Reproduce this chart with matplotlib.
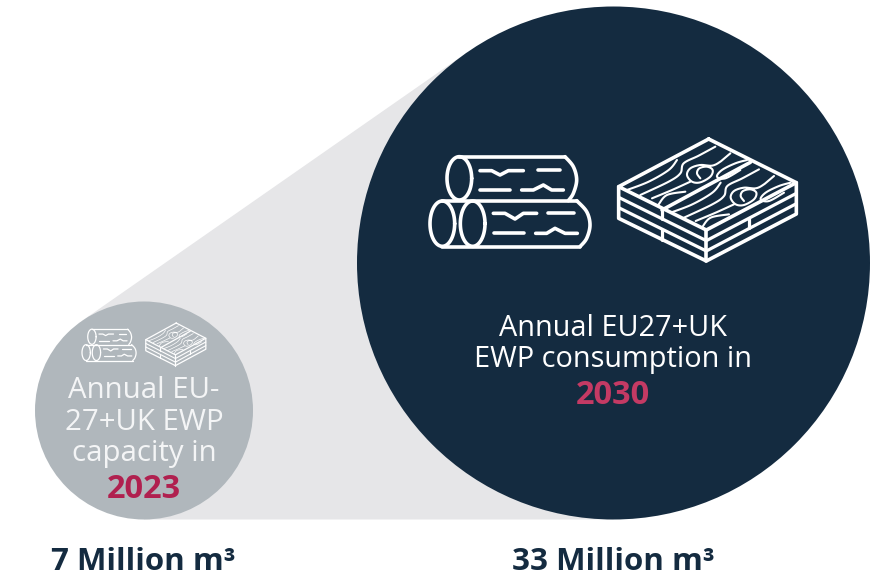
import numpy as np
import matplotlib
matplotlib.use("Agg")
import matplotlib.pyplot as plt
from matplotlib.patches import Circle, Polygon

volumes = ["7 Million m³", "33 Million m³"]
small_lines = ["Annual EU-", "27+UK EWP", "capacity in"]
small_year = "2023"
big_lines = ["Annual EU27+UK", "EWP consumption in"]
big_year = "2030"

NAVY, GREY, CONE = "#142B40", "#B0B7BC", "#E6E6E8"
PINK_BIG, PINK_SMALL = "#C43A64", "#B0204F"
FONT = "Open Sans"

fig = plt.figure(figsize=(8.81, 5.80), dpi=100, facecolor="white")
ax = fig.add_axes([0, 0, 1, 1])
ax.set_xlim(0, 881)
ax.set_ylim(580, 0)
ax.axis("off")

cs, rs = np.array([144.0, 410.5]), 109.0
cb, rb = np.array([613.5, 263.0]), 256.5

# upper tangent of the two circles
d = cb - cs
L = np.hypot(*d)
ang = np.arctan2(d[1], d[0])
off = np.arccos((rs - rb) / L)
n = np.array([np.cos(ang - off), np.sin(ang - off)])
ax.add_patch(Polygon([cs + rs * n, cb + rb * n, cb + [0, rb], cs + [0, rs]],
                     closed=True, fc=CONE, ec="none", zorder=1))
ax.add_patch(Circle(cs, rs, fc=GREY, ec="none", zorder=2))
ax.add_patch(Circle(cb, rb, fc=NAVY, ec="none", zorder=2))


def smooth(points, steps=14):
    p = np.array(points, float)
    p = np.vstack([p[0], p, p[-1]])
    out = []
    for i in range(1, len(p) - 2):
        t = np.linspace(0, 1, steps)[:, None]
        a, b, c, e = p[i - 1], p[i], p[i + 1], p[i + 2]
        out.append(0.5 * (2 * b + (c - a) * t + (2 * a - 5 * b + 4 * c - e) * t ** 2
                          + (3 * b - a - 3 * c + e) * t ** 3))
    return np.vstack(out)


def log_z(pts):
    return np.array(pts, float) / 3 + [420, 130]


def board_z(pts):
    return np.array(pts, float) / 3 + [612, 135]


def draw_icon(fx, fy, lw_main, lw_side, lw_fine):
    def T(p):
        p = np.asarray(p, float)
        return np.column_stack([fx(p[:, 0]), fy(p[:, 1])])

    def line(p, lw=lw_main):
        q = T(p)
        ax.plot(q[:, 0], q[:, 1], color="white", lw=lw, solid_capstyle="round",
                solid_joinstyle="round", zorder=4)

    # logs
    for cx, cy, rx, ry in [(118, 145, 37, 65), (67, 281, 37, 68), (158, 281, 37, 68)]:
        th = np.linspace(0, 2 * np.pi, 80)
        line(log_z(np.column_stack([cx + rx * np.cos(th), cy + ry * np.sin(th)])))
    line(log_z([(118, 80), (435, 80)]))
    line(log_z(smooth([(435, 80), (460, 110), (470, 150), (460, 190), (445, 212)])))
    line(log_z([(67, 212), (470, 212)]))
    line(log_z(smooth([(470, 212), (500, 245), (510, 285), (500, 325), (480, 350)])))
    line(log_z([(67, 350), (480, 350)]))
    for seg in [[(180, 122), (215, 122), (240, 135), (265, 122), (310, 122)],
                [(355, 120), (420, 120)], [(180, 180), (270, 180)],
                [(305, 180), (340, 180), (370, 165), (395, 180), (430, 180)],
                [(220, 250), (255, 250), (285, 267), (310, 250), (350, 250)],
                [(385, 250), (462, 250)], [(222, 310), (312, 310)],
                [(347, 310), (380, 310), (405, 295), (435, 310), (472, 310)]]:
        line(log_z(seg))

    # board
    for seg in [[(290, 12), (553, 143), (283, 285), (20, 155), (290, 12)],
                [(20, 155), (20, 250), (283, 378), (553, 237), (553, 143)],
                [(283, 285), (283, 378)], [(415, 82), (150, 225)]]:
        line(board_z(seg))
    for seg in [[(20, 187), (283, 317), (553, 175)],
                [(20, 218), (283, 348), (553, 206)],
                [(150, 225), (150, 252)], [(150, 284), (150, 316)],
                [(412, 250), (412, 280)]]:
        line(board_z(seg), lw_side)
    grains = [[(45, 165), (110, 140), (170, 105), (195, 75)],
              [(310, 35), (260, 62), (215, 85), (205, 115), (170, 140), (85, 180)],
              [(355, 55), (325, 80), (300, 92), (265, 90), (235, 100), (225, 120),
               (240, 140), (265, 142), (295, 125), (302, 105), (285, 95), (262, 100),
               (255, 115), (265, 130)],
              [(120, 190), (180, 165), (235, 140)],
              [(140, 208), (165, 180), (220, 170)],
              [(405, 75), (370, 85), (330, 105), (315, 125), (340, 130), (385, 105)]]
    for g in grains:
        line(board_z(smooth(g)), lw_fine)
        line(board_z(smooth(np.array(g, float) + [131, 68])), lw_fine)


draw_icon(lambda x: x, lambda y: y, 2.6, 2.3, 1.5)
draw_icon(lambda x: 82 + (x - 430) * 0.338, lambda y: 323 + (y - 139) * 0.3495,
          0.9, 0.8, 0.5)


def txt(x, y, s, size, color, weight="normal"):
    ax.text(x, y, s, ha="center", va="center", fontsize=size, color=color,
            fontweight=weight, family=[FONT, "DejaVu Sans"], zorder=5)


for y, s in zip([328, 360], big_lines):
    txt(613, y, s, 20.8, "white", "medium")
txt(613, 396, big_year, 23.5, PINK_BIG, "bold")

for y, s in zip([390, 422, 454], small_lines):
    txt(144, y, s, 21.2, "#F4F5F6", "medium")
txt(144, 490, small_year, 23.5, PINK_SMALL, "bold")

txt(143, 562, volumes[0], 22.5, NAVY, "bold")
txt(613, 562, volumes[1], 22.5, NAVY, "bold")

fig.savefig("out.png", dpi=100, facecolor="white")
